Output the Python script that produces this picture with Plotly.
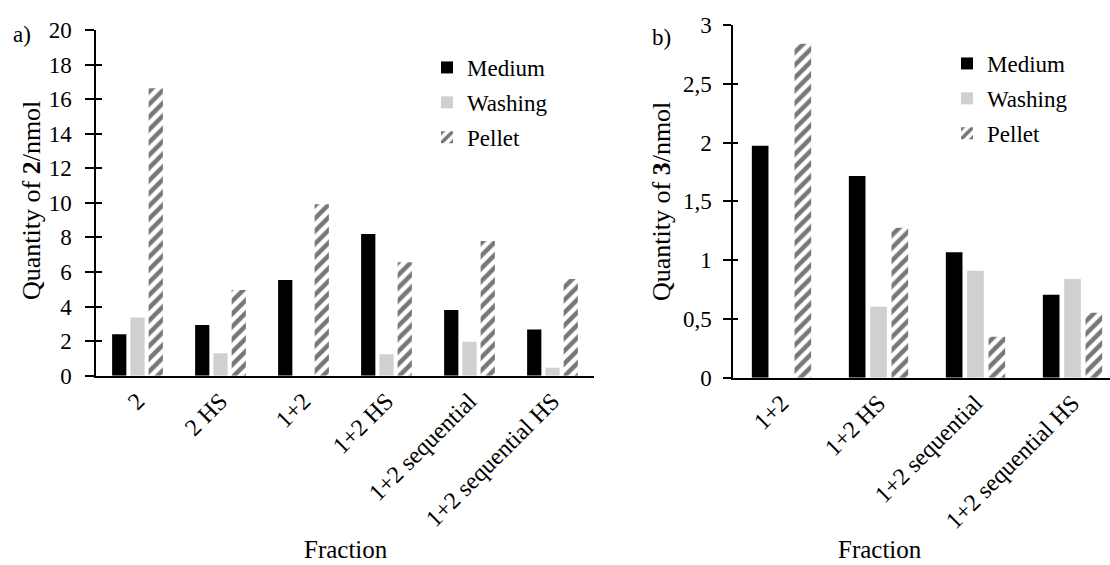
import plotly.graph_objects as go

# ---------------- data ----------------
cats_a = ["2", "2 HS", "1+2", "1+2 HS", "1+2 sequential", "1+2 sequential HS"]
medium_a = [2.40, 2.93, 5.54, 8.20, 3.80, 2.68]
washing_a = [3.36, 1.30, 0.0, 1.24, 1.97, 0.46]
pellet_a = [16.63, 4.96, 9.92, 6.56, 7.80, 5.60]

cats_b = ["1+2", "1+2 HS", "1+2 sequential", "1+2 sequential HS"]
medium_b = [1.973, 1.715, 1.066, 0.706]
washing_b = [0.0, 0.604, 0.910, 0.839]
pellet_b = [2.84, 1.276, 0.349, 0.553]

ytick_a = [0, 2, 4, 6, 8, 10, 12, 14, 16, 18, 20]
ytick_b_vals = [0, 0.5, 1, 1.5, 2, 2.5, 3]
ytick_b_text = ["0", "0,5", "1", "1,5", "2", "2,5", "3"]

series_names = ["Medium", "Washing", "Pellet"]

# ---------------- style ----------------
W, H = 1110, 565
FONT = "Liberation Serif, Times New Roman, serif"
BLACK = "#000000"
LIGHT = "#d0d0d0"
HATCH = "#777777"


def px_x(p):
    return p / W


def px_y(p):
    return 1 - p / H


fig = go.Figure()


def add_series(cats, med, wash, pel, xa, ya, legend):
    fig.add_trace(go.Bar(x=cats, y=med, name=series_names[0], marker=dict(color=BLACK, line=dict(width=0)),
                         xaxis=xa, yaxis=ya, legend=legend, legendgroup=legend + "m"))
    fig.add_trace(go.Bar(x=cats, y=wash, name=series_names[1], marker=dict(color=LIGHT, line=dict(width=0)),
                         xaxis=xa, yaxis=ya, legend=legend, legendgroup=legend + "w"))
    fig.add_trace(go.Bar(x=cats, y=pel, name=series_names[2],
                         marker=dict(color="white", line=dict(width=0),
                                     pattern=dict(shape="/", fgcolor=HATCH, bgcolor="white",
                                                  size=9, solidity=0.5)),
                         xaxis=xa, yaxis=ya, legend=legend, legendgroup=legend + "p"))


add_series(cats_a, medium_a, washing_a, pellet_a, "x", "y", "legend")
add_series(cats_b, medium_b, washing_b, pellet_b, "x2", "y2", "legend2")

tickfont = dict(family=FONT, size=23, color="black")
catfont = dict(family=FONT, size=24, color="black")

xdom_a = [px_x(96), px_x(594)]
xdom_b = [px_x(733), 1.0]
ydom_a = [px_y(375.7), px_y(30)]
ydom_b = [px_y(377.7), px_y(25)]

# range for b so that spacing ~97 px while axis ends at image edge
span_b = (1110 - 733) / 97.0

common = dict(automargin=False, showgrid=False, zeroline=False)

fig.update_layout(
    template="none",
    width=W, height=H,
    margin=dict(l=0, r=0, t=0, b=0, pad=0, autoexpand=False),
    paper_bgcolor="white", plot_bgcolor="white",
    barmode="group", bargap=0.34, bargroupgap=0.22,
    font=dict(family=FONT, color="black"),
    xaxis=dict(domain=xdom_a, anchor="y", type="category", range=[-0.5, 5.5],
               showline=True, linecolor="black", linewidth=1.5, ticks="",
               tickangle=-45, tickfont=catfont, **common),
    yaxis=dict(domain=ydom_a, anchor="x", range=[0, 20], tickvals=ytick_a,
               showline=True, linecolor="black", linewidth=1.5, ticks="outside", ticklen=9,
               tickwidth=1.5, tickcolor="black",
               tickfont=tickfont, ticklabelstandoff=9, **common),
    yaxis3=dict(domain=ydom_a, anchor="x", overlaying="y", range=[0, 20], tickvals=ytick_a,
                showline=False, ticks="inside", ticklen=6, tickwidth=1.5, tickcolor="black",
                showticklabels=False, **common),
    xaxis2=dict(domain=xdom_b, anchor="y2", type="category", range=[-0.5, -0.5 + span_b],
                showline=True, linecolor="black", linewidth=1.5, ticks="",
                tickangle=-45, tickfont=catfont, **common),
    yaxis2=dict(domain=ydom_b, anchor="x2", range=[0, 3], tickvals=ytick_b_vals, ticktext=ytick_b_text,
                showline=True, linecolor="black", linewidth=1.5, ticks="outside", ticklen=8,
                tickwidth=1.5, tickcolor="black",
                tickfont=tickfont, ticklabelstandoff=7, **common),
    yaxis4=dict(domain=ydom_b, anchor="x2", overlaying="y2", range=[0, 3], tickvals=ytick_b_vals,
                showline=False, ticks="inside", ticklen=5, tickwidth=1.5, tickcolor="black",
                showticklabels=False, **common),
    legend=dict(x=px_x(427), y=px_y(46), xanchor="left", yanchor="top",
                font=dict(family=FONT, size=23, color="black"), bgcolor="rgba(0,0,0,0)",
                tracegroupgap=2),
    legend2=dict(x=px_x(947), y=px_y(42), xanchor="left", yanchor="top",
                 font=dict(family=FONT, size=23, color="black"), bgcolor="rgba(0,0,0,0)",
                 tracegroupgap=2),
    showlegend=True,
)

# invisible helper traces so the overlay tick axes render
fig.add_trace(go.Scatter(x=[cats_a[0]], y=[0], xaxis="x", yaxis="y3", mode="markers",
                         marker=dict(opacity=0), showlegend=False, hoverinfo="skip"))
fig.add_trace(go.Scatter(x=[cats_b[0]], y=[0], xaxis="x2", yaxis="y4", mode="markers",
                         marker=dict(opacity=0), showlegend=False, hoverinfo="skip"))


def label(text, x, y, size, angle=0):
    return dict(text=text, x=px_x(x), y=px_y(y), xref="paper", yref="paper", showarrow=False,
                xanchor="center", yanchor="middle", textangle=angle,
                font=dict(family=FONT, size=size, color="black"))


ann = [
    label("a)", 22, 35, 23),
    label("b)", 661, 37, 23),
    label("Quantity of <b>2</b>/nmol", 31, 201, 26, -90),
    label("Quantity of <b>3</b>/nmol", 661, 202, 26, -90),
    label("Fraction", 346, 549, 25),
    label("Fraction", 880, 549, 25),
]
fig.update_layout(annotations=ann)

fig.write_html("out.html", config={"displayModeBar": False},
               post_script="document.body.style.margin='0';document.body.style.padding='0';")
